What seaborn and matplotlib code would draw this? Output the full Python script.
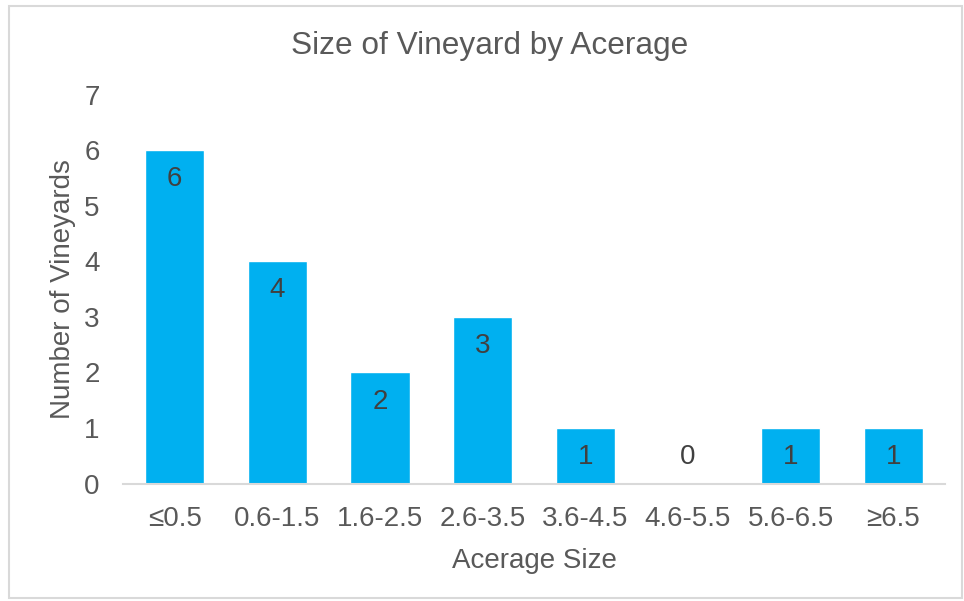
import pandas as pd
import matplotlib.pyplot as plt
import seaborn as sns
from matplotlib.patches import Rectangle

# data
size_bins = ["≤0.5", "0.6-1.5", "1.6-2.5", "2.6-3.5", "3.6-4.5", "4.6-5.5", "5.6-6.5", "≥6.5"]
vineyard_counts = [6, 4, 2, 3, 1, 0, 1, 1]

BAR_COLOR = "#00B0F0"
TEXT_COLOR = "#595959"

sns.set_theme(style="white")
plt.rcParams["font.family"] = ["Liberation Sans", "DejaVu Sans"]

df = pd.DataFrame({"bin": size_bins, "count": vineyard_counts})

fig = plt.figure(figsize=(9.64, 6.01), dpi=100)
ax = fig.add_axes([0.128, 0.1955, 0.852, 0.647])

sns.barplot(data=df, x="bin", y="count", color=BAR_COLOR, width=0.58,
            saturation=1, ax=ax)

ax.set_ylim(0, 7)
ax.set_xlim(-0.5, len(size_bins) - 0.5)
ax.set_yticks(range(0, 8))

# value labels inside the bar top (zero sits above the baseline)
for i, v in enumerate(vineyard_counts):
    off = -21 if v > 0 else 19
    ax.annotate(str(v), xy=(i, v), xytext=(0, off), textcoords="offset points",
                ha="center", va="center", fontsize=20, color="#404040")

sns.despine(ax=ax, left=True)
ax.spines["bottom"].set_color("#D9D9D9")
ax.spines["bottom"].set_linewidth(1.5)
ax.tick_params(axis="both", length=0, labelsize=20, colors=TEXT_COLOR)
ax.tick_params(axis="x", pad=16)
ax.tick_params(axis="y", pad=17)

ax.set_xlabel("Acerage Size", fontsize=20, color=TEXT_COLOR, labelpad=12)
ax.set_ylabel("Number of Vineyards", fontsize=20, color=TEXT_COLOR, labelpad=6)
fig.text(490 / 964, 1 - 46 / 601, "Size of Vineyard by Acerage", ha="center", va="center",
         fontsize=22.8, color=TEXT_COLOR)

# chart area border
fig.patches.append(Rectangle((9 / 964, 3 / 601), 953 / 964, 592 / 601,
                             transform=fig.transFigure, fill=False,
                             edgecolor="#D9D9D9", linewidth=1.5))

fig.savefig("out.png", dpi=100)
